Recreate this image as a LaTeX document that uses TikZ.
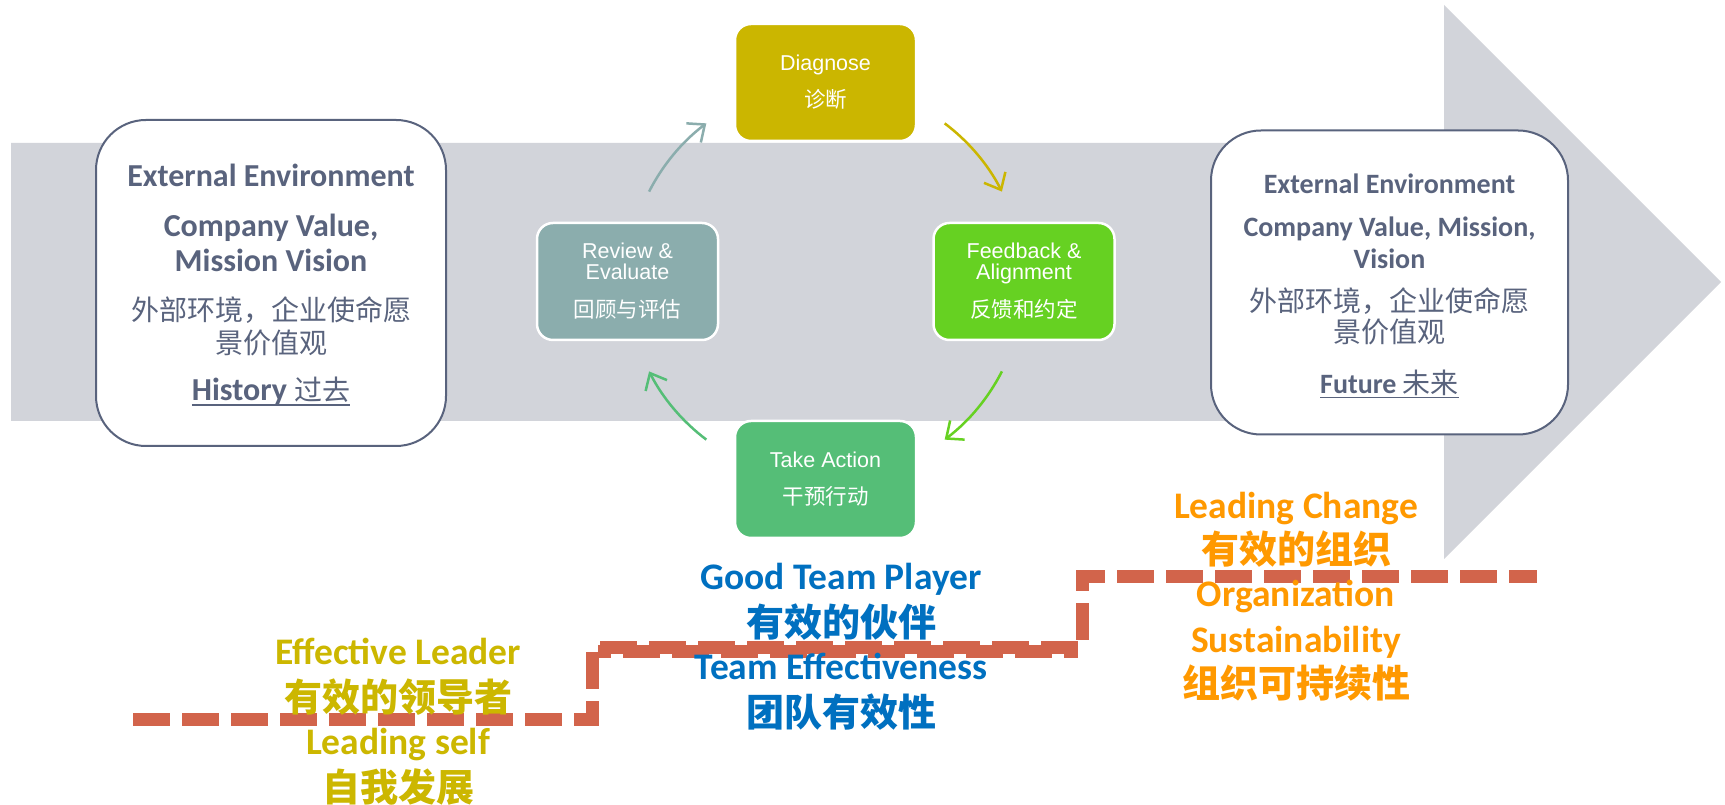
\documentclass[tikz,border=0pt]{standalone}
\usepackage{fontspec}
\usepackage{xcolor}
\usetikzlibrary{arrows.meta}
\setmainfont{Carlito}
\newfontfamily\cjk{Noto Sans CJK SC}
\newfontfamily\arialf{Liberation Sans}

\definecolor{bandgrey}{RGB}{210,212,218}
\definecolor{slate}{RGB}{89,99,125}
\definecolor{diagcol}{RGB}{203,182,0}
\definecolor{feedcol}{RGB}{102,209,34}
\definecolor{actcol}{RGB}{85,190,119}
\definecolor{revcol}{RGB}{139,173,173}
\definecolor{stepline}{RGB}{210,100,75}
\definecolor{leadyellow}{RGB}{204,183,0}
\definecolor{leadblue}{RGB}{0,112,192}
\definecolor{leadorange}{RGB}{255,153,0}

\newcommand{\boxcjk}{\cjk\mdseries\fontsize{28}{35}\selectfont}
\newcommand{\cyccjk}{\cjk\fontsize{21.5}{30}\selectfont}
\newcommand{\levcjk}{\cjk\bfseries\fontsize{38}{45}\selectfont}
\newcommand{\baseunder}[1]{\setbox0\hbox{#1}\rlap{\rule[-5pt]{\wd0}{1.6pt}}\box0}

\tikzset{
    env-box/.style = {draw=slate, fill=white, line width=2pt, rectangle, rounded corners=50pt, align=center, text=slate, inner sep=0pt},
    cycle-box/.style = {draw=white, line width=2.5pt, rectangle, rounded corners=16pt, minimum width=181pt, minimum height=117pt, align=center, text=white, inner sep=0pt, font=\arialf\fontsize{21.5}{30}\selectfont},
    cycle-arrow/.style = {draw=#1, line width=2.5pt, -{Straight Barb[length=14pt,width=24pt]}},
    level-text/.style = {align=center, text=#1, inner sep=0pt, font=\bfseries\fontsize{37.5}{45}\selectfont},
    step-line/.style = {draw=stepline, line width=13pt, dash pattern=on 37pt off 12pt},
}

\begin{document}
\begin{tikzpicture}[x=1pt, y=1pt]
\useasboundingbox (0,0) rectangle (1725,805);
\fill[white] (0,0) rectangle (1725,805);

% time arrow in the back
\fill[bandgrey] (11,662) -- (1444,662) -- (1444,800) -- (1721,523) -- (1444,246) -- (1444,384) -- (11,384) -- cycle;

% past and future
\node[env-box, minimum width=350pt, minimum height=326pt, font=\bfseries\fontsize{32}{35}\selectfont] (past) at (271,522) {\rule{0pt}{27pt}External Environment\\[15pt]
    Company Value,\\
    Mission Vision\\[14pt]
    {\boxcjk 外部环境，企业使命愿}\\[-2pt]
    {\boxcjk 景价值观}\\[12pt]
    \baseunder{History {\boxcjk 过去}}};
\node[env-box, minimum width=357pt, minimum height=304pt, font=\bfseries\fontsize{28}{32}\selectfont] (future) at (1389.5,522.5) {\rule{0pt}{27pt}External Environment\\[11pt]
    Company Value, Mission,\\
    Vision\\[11pt]
    {\boxcjk 外部环境，企业使命愿}\\[-1pt]
    {\boxcjk 景价值观}\\[19pt]
    \baseunder{Future {\boxcjk 未来}}};

% the cycle
\coordinate (cyc) at (825.5,523.5);
\node[cycle-box, fill=diagcol] (diag) at (825.5,722.5) {Diagnose\\[7pt]{\cyccjk 诊断}};
\node[cycle-box, fill=feedcol] (feed) at (1024,523.5) {Feedback \&\\[-9pt]Alignment\\[8pt]{\cyccjk 反馈和约定}};
\node[cycle-box, fill=actcol] (act) at (825.5,325.5) {Take Action\\[7pt]{\cyccjk 干预行动}};
\node[cycle-box, fill=revcol] (rev) at (627.5,523.5) {Review \&\\[-9pt]Evaluate\\[8pt]{\cyccjk 回顾与评估}};

\draw[cycle-arrow=revcol] ([shift={(153:198pt)}]cyc) arc[start angle=153, end angle=127, radius=198pt];
\draw[cycle-arrow=diagcol] ([shift={(53:198pt)}]cyc) arc[start angle=53, end angle=27, radius=198pt];
\draw[cycle-arrow=feedcol] ([shift={(-27:198pt)}]cyc) arc[start angle=-27, end angle=-53, radius=198pt];
\draw[cycle-arrow=actcol] ([shift={(-127:198pt)}]cyc) arc[start angle=-127, end angle=-153, radius=198pt];

% steps of leadership
\draw[step-line] (133,85) -- (592,85) -- (592,157) -- (1082,157) -- (1082,228) -- (1537,228);
\draw[step-line, dash phase=24pt] (598,153) -- (1078,153);

\node[level-text=leadyellow] (self) at (398,83.5) {Effective Leader\\[2pt]
    {\levcjk 有效的领导者}\\[-2pt]
    Leading self\\[2pt]
    {\levcjk 自我发展}};
\node[level-text=leadblue] (team) at (841,158.5) {Good Team Player\\[2pt]
    {\levcjk 有效的伙伴}\\[-2pt]
    Team Effectiveness\\[2pt]
    {\levcjk 团队有效性}};
\node[level-text=leadorange] (org) at (1296,208.5) {Leading Change\\[0pt]
    {\levcjk 有效的组织}\\[-1.5pt]
    Organization\\[1pt]
    Sustainability\\[-0.5pt]
    {\levcjk 组织可持续性}};
\end{tikzpicture}
\end{document}
